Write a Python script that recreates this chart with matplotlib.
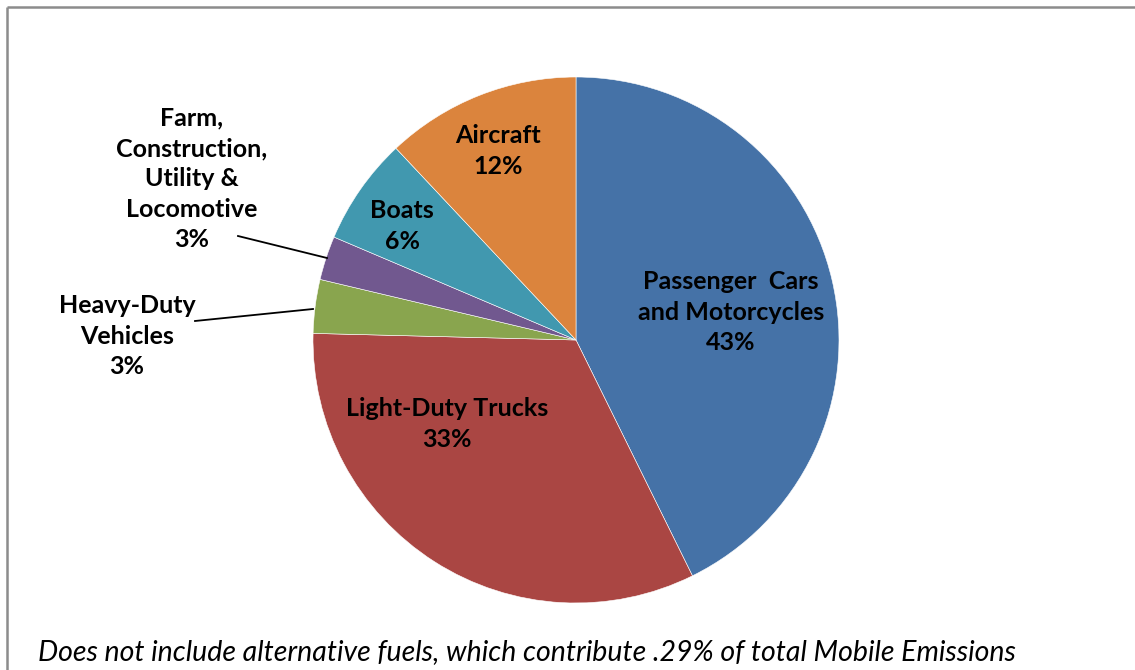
import matplotlib.pyplot as plt

# slice data, clockwise from 12 o'clock
categories = ['Passenger  Cars\nand Motorcycles', 'Light-Duty Trucks', 'Heavy-Duty\nVehicles',
              'Farm,\nConstruction,\nUtility &\nLocomotive', 'Boats', 'Aircraft']
shares = [42.7, 32.7, 3.3, 2.7, 6.6, 12.0]
pct_labels = ['43%', '33%', '3%', '3%', '6%', '12%']
colors = ['#4572A7', '#AA4643', '#89A54E', '#71588F', '#4198AF', '#DB843D']

note = 'Does not include alternative fuels, which contribute .29% of total Mobile Emissions'

W, H = 1135, 670
fig = plt.figure(figsize=(W / 100, H / 100), dpi=100)
ax = fig.add_axes([0, 0, 1, 1])
ax.axis('off')

cx, cy, r = 576, H - 340, 263
ax.pie(shares, colors=colors, startangle=90, counterclock=False,
       center=(cx, cy), radius=r,
       wedgeprops=dict(edgecolor='white', linewidth=0.4))
ax.set_xlim(0, W)
ax.set_ylim(0, H)
ax.set_aspect('equal')

# outer frame: only left and top edges fall inside the picture
ax.plot([7, 7], [0, H - 7], color='#8c8c8c', linewidth=1.8, solid_capstyle='butt')
ax.plot([7, W], [H - 7, H - 7], color='#8c8c8c', linewidth=1.8, solid_capstyle='butt')

font = dict(family=['Lato', 'DejaVu Sans'], fontweight='bold', fontsize=18,
            color='black', ha='center', va='center', linespacing=1.39)

# label positions in pixel coords (x, y from top)
label_pos = [(731, 312), (447, 424), (127, 336), (192, 179), (402, 226), (498, 151)]
for name, pct, (lx, ly) in zip(categories, pct_labels, label_pos):
    ax.text(lx, H - ly, name + '\n' + pct, **font)

# leader lines for the small outside labels
ax.plot([238, 327], [H - 236, H - 258], color='black', linewidth=1.3)
ax.plot([195, 313], [H - 321, H - 309], color='black', linewidth=1.3)

ax.text(38, H - 652, note, family=['Lato', 'DejaVu Sans'], style='italic',
        fontsize=20.5, ha='left', va='center')

fig.savefig('out.png', dpi=100)
